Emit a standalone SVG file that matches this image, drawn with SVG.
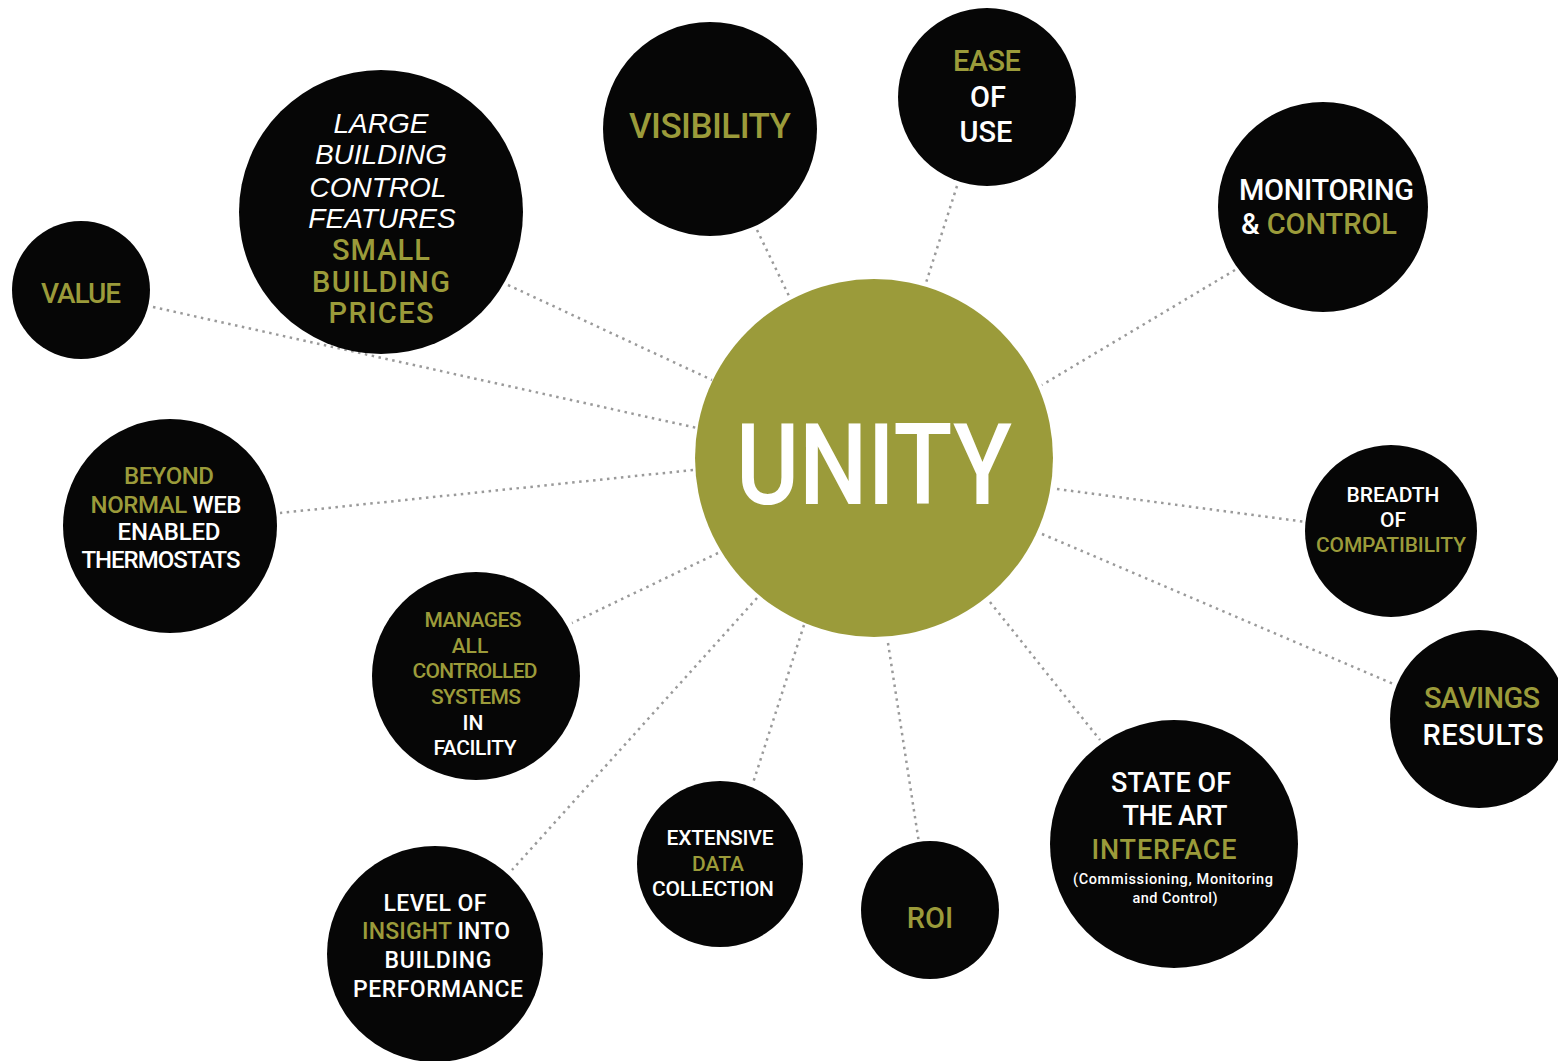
<svg xmlns="http://www.w3.org/2000/svg" width="1558" height="1061" viewBox="0 0 1558 1061">
<style>
.bg{fill:#ffffff}
.node{fill:#060606}
.hub{fill:#9b9b3a}
.t{font-family:Roboto,"DejaVu Sans",sans-serif;font-weight:500;text-anchor:middle}
.it{font-family:"Liberation Sans",Arial,sans-serif;font-style:italic;text-anchor:middle;fill:#ffffff}
.w{fill:#ffffff}
.o{fill:#9b9b3a}
.c line{stroke:#9a9a9a;stroke-width:2.5;stroke-dasharray:2.5 4.5;fill:none}
</style>
<rect class="bg" x="0" y="0" width="1558" height="1061"/>
<g id="connectors" class="c">
<line x1="153" y1="307" x2="697" y2="428"/>
<line x1="508" y1="285" x2="712" y2="380"/>
<line x1="757" y1="230" x2="790" y2="298"/>
<line x1="957" y1="186" x2="925" y2="286"/>
<line x1="1235" y1="270" x2="1042" y2="385"/>
<line x1="1057" y1="489" x2="1306" y2="522"/>
<line x1="1042" y1="534" x2="1396" y2="685"/>
<line x1="990" y1="602" x2="1100" y2="740"/>
<line x1="888" y1="643" x2="919" y2="843"/>
<line x1="804" y1="625" x2="753" y2="783"/>
<line x1="757" y1="598" x2="512" y2="870"/>
<line x1="718" y1="553" x2="572" y2="623"/>
<line x1="693" y1="470" x2="280" y2="513"/>
</g>
<g id="unity">
<circle class="hub" cx="874" cy="458" r="179"/>
<text x="874" y="504" font-family="Roboto,'Liberation Sans',sans-serif" font-weight="500" font-size="114" text-anchor="middle" fill="#ffffff" textLength="276" lengthAdjust="spacingAndGlyphs">UNITY</text>
</g>
<g id="value">
<circle class="node" cx="81" cy="290" r="69"/>
<text class="t o" x="81" y="303" font-size="28" textLength="80">VALUE</text>
</g>
<g id="large-building">
<circle class="node" cx="381" cy="212" r="142"/>
<text class="it" x="381" y="133" font-size="28">LARGE</text>
<text class="it" x="381" y="164" font-size="28">BUILDING</text>
<text class="it" x="378" y="197" font-size="28">CONTROL</text>
<text class="it" x="382" y="228" font-size="28">FEATURES</text>
<text class="t o" x="381" y="260" font-size="29" textLength="98">SMALL</text>
<text class="t o" x="381" y="292" font-size="29" textLength="138">BUILDING</text>
<text class="t o" x="381" y="323" font-size="29" textLength="105">PRICES</text>
</g>
<g id="visibility">
<circle class="node" cx="710" cy="129" r="107"/>
<text class="t o" x="710" y="138" font-size="35" textLength="162">VISIBILITY</text>
</g>
<g id="ease-of-use">
<circle class="node" cx="987" cy="97" r="89"/>
<text class="t o" x="987" y="71" font-size="29" textLength="68">EASE</text>
<text class="t w" x="988" y="107" font-size="29">OF</text>
<text class="t w" x="986" y="142" font-size="29">USE</text>
</g>
<g id="monitoring-control">
<circle class="node" cx="1323" cy="207" r="105"/>
<text class="t w" x="1239" y="200" font-size="29" style="text-anchor:start" textLength="175">MONITORING</text>
<text class="t" x="1241" y="234" font-size="29" style="text-anchor:start" textLength="156"><tspan class="w">&amp;</tspan><tspan class="o"> CONTROL</tspan></text>
</g>
<g id="breadth">
<circle class="node" cx="1391" cy="531" r="86"/>
<text class="t w" x="1393" y="502" font-size="21" textLength="93">BREADTH</text>
<text class="t w" x="1393" y="527" font-size="21">OF</text>
<text class="t o" x="1391" y="552" font-size="21" textLength="150">COMPATIBILITY</text>
</g>
<g id="savings">
<circle class="node" cx="1479" cy="719" r="89"/>
<text class="t o" x="1482" y="708" font-size="29" textLength="116">SAVINGS</text>
<text class="t w" x="1483" y="745" font-size="29" textLength="121">RESULTS</text>
</g>
<g id="state-of-the-art">
<circle class="node" cx="1174" cy="844" r="124"/>
<text class="t w" x="1171" y="792" font-size="27" textLength="120">STATE OF</text>
<text class="t w" x="1175" y="825" font-size="27" textLength="105">THE ART</text>
<text class="t o" x="1164" y="859" font-size="27" textLength="145">INTERFACE</text>
<text class="t w" x="1173" y="884" font-size="14.5" textLength="200">(Commissioning, Monitoring</text>
<text class="t w" x="1175" y="903" font-size="14.5" textLength="85">and Control)</text>
</g>
<g id="roi">
<circle class="node" cx="930" cy="910" r="69"/>
<text class="t o" x="930" y="928" font-size="29">ROI</text>
</g>
<g id="extensive-data">
<circle class="node" cx="720" cy="864" r="83"/>
<text class="t w" x="720" y="845" font-size="21" textLength="107">EXTENSIVE</text>
<text class="t o" x="718" y="871" font-size="21">DATA</text>
<text class="t w" x="713" y="896" font-size="21" textLength="122">COLLECTION</text>
</g>
<g id="level-of-insight">
<circle class="node" cx="435" cy="954" r="108"/>
<text class="t w" x="435" y="911" font-size="23" textLength="103">LEVEL OF</text>
<text class="t" x="436" y="939" font-size="23" textLength="148"><tspan class="o">INSIGHT</tspan><tspan class="w"> INTO</tspan></text>
<text class="t w" x="438" y="968" font-size="23" textLength="107">BUILDING</text>
<text class="t w" x="438" y="997" font-size="23" textLength="170">PERFORMANCE</text>
</g>
<g id="manages">
<circle class="node" cx="476" cy="676" r="104"/>
<text class="t o" x="473" y="627" font-size="21" textLength="97">MANAGES</text>
<text class="t o" x="470" y="653" font-size="21">ALL</text>
<text class="t o" x="475" y="678" font-size="21" textLength="125">CONTROLLED</text>
<text class="t o" x="476" y="704" font-size="21" textLength="90">SYSTEMS</text>
<text class="t w" x="473" y="730" font-size="21">IN</text>
<text class="t w" x="475" y="755" font-size="21" textLength="83">FACILITY</text>
</g>
<g id="beyond">
<circle class="node" cx="170" cy="526" r="107"/>
<text class="t o" x="169" y="484" font-size="24" textLength="90">BEYOND</text>
<text class="t" x="166" y="513" font-size="24" textLength="151"><tspan class="o">NORMAL</tspan><tspan class="w"> WEB</tspan></text>
<text class="t w" x="169" y="540" font-size="24" textLength="103">ENABLED</text>
<text class="t w" x="161" y="568" font-size="24" textLength="159">THERMOSTATS</text>
</g>
</svg>
